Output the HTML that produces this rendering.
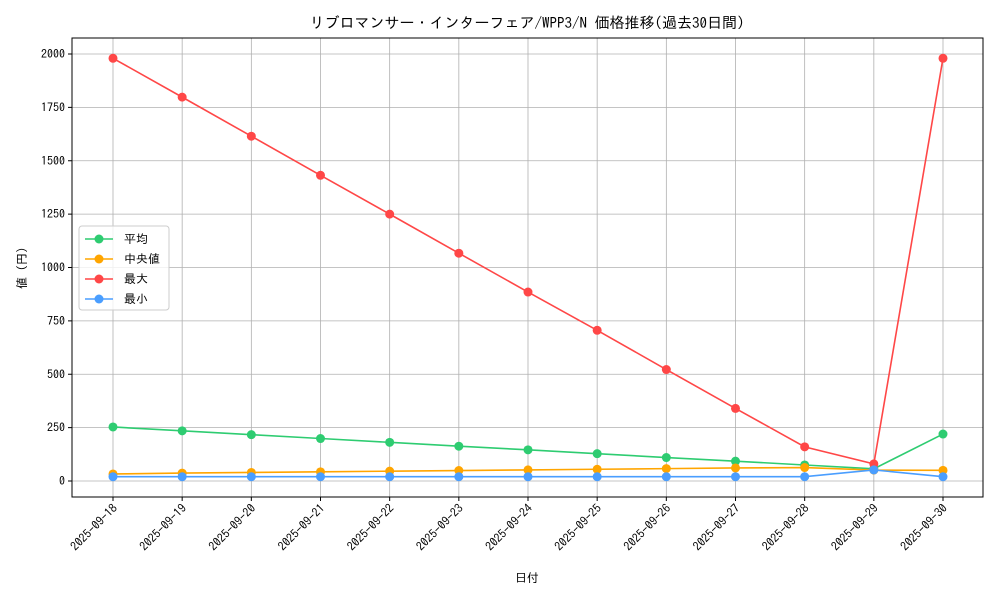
<!DOCTYPE html>
<html><head><meta charset="utf-8"><style>
body{margin:0;background:#fff;font-family:"IPAGothic","Noto Sans CJK JP",monospace;}
text{font-family:"IPAGothic","Noto Sans CJK JP",monospace;}
</style></head><body>
<svg id="c" width="1000" height="600" xmlns="http://www.w3.org/2000/svg"></svg>
<script>
const categories=["2025-09-18","2025-09-19","2025-09-20","2025-09-21","2025-09-22","2025-09-23","2025-09-24","2025-09-25","2025-09-26","2025-09-27","2025-09-28","2025-09-29","2025-09-30"];
const avgValues=[253,235,217,199,181,163,146,128,110,93,75,57,220];
const medianValues=[33,37,40,43,46,49,52,55,58,61,63,51,50];
const maxValues=[1980,1798,1615,1432,1250,1067,885,706,522,340,160,80,1980];
const minValues=[20,20,20,20,20,20,20,20,20,20,20,52,20];
const yTicks=[0,250,500,750,1000,1250,1500,1750,2000];
const seriesNames=["平均","中央値","最大","最小"];
const seriesColors=["#2ecc71","#ffa500","#ff4747","#4a9eff"];
const svg=document.getElementById('c');const NS="http://www.w3.org/2000/svg";
const L=72,R=983,T=38,B=497;
const x=i=>113+i*(943-113)/(categories.length-1);
const y=v=>481-v*(481-54)/2000;
function mk(t,a,p){const e=document.createElementNS(NS,t);for(const k in a)e.setAttribute(k,a[k]);(p||svg).appendChild(e);return e;}
const grid=mk('g',{});
categories.forEach((c,i)=>{mk('line',{x1:x(i),x2:x(i),y1:T,y2:B,stroke:'#b0b0b0','stroke-width':0.8},grid);
 mk('line',{x1:x(i),x2:x(i),y1:B,y2:B+4,stroke:'#000'});
 const ax=x(i)+5,ay=B+12;
 const t=mk('text',{x:ax,y:ay,'font-size':12,'text-anchor':'end',transform:`rotate(-45 ${ax} ${ay})`});t.textContent=c;
 });
yTicks.forEach(v=>{mk('line',{x1:L,x2:R,y1:y(v),y2:y(v),stroke:'#b0b0b0','stroke-width':0.8},grid);
 mk('line',{x1:L-4,x2:L,y1:y(v),y2:y(v),stroke:'#000'});
 const t=mk('text',{x:L-7,y:y(v)+4,'font-size':12,'text-anchor':'end'});t.textContent=v;
 });
const series=[avgValues,medianValues,maxValues,minValues];
series.forEach((vals,s)=>{const g=mk('g',{});
 mk('polyline',{points:vals.map((v,i)=>x(i)+','+y(v)).join(' '),fill:'none',stroke:seriesColors[s],'stroke-width':1.6},g);
 vals.forEach((v,i)=>{const c=mk('circle',{cx:x(i),cy:y(v),r:4.5,fill:seriesColors[s]},g);});});
const fr=mk('rect',{x:L,y:T,width:R-L,height:B-T,fill:'none',stroke:'#000','stroke-width':1});
const ti=mk('text',{x:527,y:28,'font-size':15,'text-anchor':'middle'});ti.textContent="リブロマンサー・インターフェア/WPP3/N 価格推移(過去30日間)";
const xt=mk('text',{x:527,y:582,'font-size':12,'text-anchor':'middle'});xt.textContent="日付";
const yt=mk('text',{x:26,y:268,'font-size':12,'text-anchor':'middle',transform:'rotate(-90 26 268)'});yt.textContent="値 (円)";
const lg=mk('g',{});
mk('rect',{x:79,y:226,width:90,height:84,rx:3,fill:'#fff','fill-opacity':0.8,stroke:'#ccc'},lg);
seriesNames.forEach((n,s)=>{const yy=239+s*20;const e=mk('g',{},lg);
 mk('line',{x1:85,x2:113,y1:yy,y2:yy,stroke:seriesColors[s],'stroke-width':1.6},e);
 mk('circle',{cx:99,cy:yy,r:4.5,fill:seriesColors[s]},e);
 const t=mk('text',{x:124,y:yy+4,'font-size':12},e);t.textContent=n;});
</script></body></html>
